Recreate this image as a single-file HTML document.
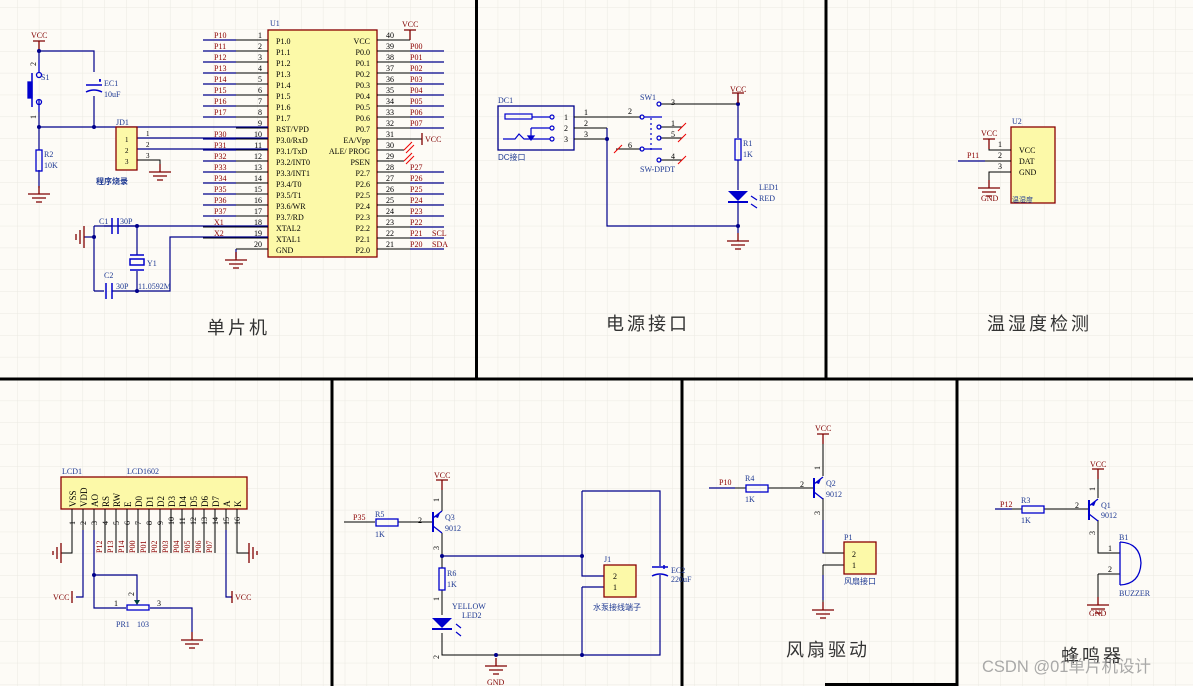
<!DOCTYPE html>
<html><head><meta charset="utf-8"><style>
html,body{margin:0;padding:0;background:#fdfbf6;}
svg{display:block;}
text{font-family:"Liberation Serif","Noto Serif CJK SC",serif;}
.cn{font-family:"Liberation Sans","Noto Sans CJK SC",sans-serif;}
g[stroke="#000"] path{fill:none;}
</style></head><body>
<svg width="1193" height="686" viewBox="0 0 1193 686" xmlns="http://www.w3.org/2000/svg">
<defs>
<pattern id="g" x="17" y="7.3" width="21.85" height="21.85" patternUnits="userSpaceOnUse">
<path d="M0 0H21.85M0 0V21.85" stroke="#eae9e2" stroke-width="1" fill="none"/>
</pattern>
<g id="gnd"><path d="M0 0V8M-11 8H11M-7 12H7M-3 16H3" stroke="#800000" stroke-width="1.3" fill="none"/></g>
<g id="vcc"><path d="M-6 0H6M0 0V10" stroke="#800000" stroke-width="1.3" fill="none"/></g>
<g id="pnp"><path d="M0 -10V10" stroke="#0000cc" stroke-width="2"/><path d="M0 -4L9 -11M0 4L9 11" stroke="#0000cc" stroke-width="1.3" fill="none"/><path d="M2 -5L7 -9L5 -4Z" fill="#0000cc"/></g>
</defs>
<rect width="1193" height="686" fill="#fdfbf6"/>
<rect width="1193" height="686" fill="url(#g)"/>

<g stroke="#000" stroke-width="3">
<path d="M0 379H1193M476.5 0V379M826 0V379M332 379V686M682 379V686M957 379V686M825 684.5H957"/>
</g>

<!-- ================= MCU ================= -->
<rect x="268" y="30" width="109" height="227" fill="#fcf9a8" stroke="#8b0000" stroke-width="1.3"/>
<g stroke="#000" stroke-width="1">
<path d="M203 40H268M203 51H268M203 62H268M203 73H268M203 84H268M203 95H268M203 106H268M203 117H268M236 128H268M203 139H268M203 150H268M203 161H268M203 172H268M203 183H268M203 194H268M203 205H268M203 216H268M203 227H268M203 238H268M236 249H268"/>
<path d="M377 40H410M377 51H444M377 62H444M377 73H444M377 84H444M377 95H444M377 106H444M377 117H444M377 128H444M377 139H422M377 150H404M377 161H404M377 172H444M377 183H444M377 194H444M377 205H444M377 216H444M377 227H444M377 238H444M377 249H444"/>
</g>
<g stroke="#00008b" stroke-width="1.2" fill="none">
<path d="M203 40H236M203 51H236M203 62H236M203 73H236M203 84H236M203 95H236M203 106H236M203 117H236M203 139H236M203 150H236M203 161H236M203 172H236M203 183H236M203 194H236M203 205H236M203 216H236"/>
<path d="M410 51H444M410 62H444M410 73H444M410 84H444M410 95H444M410 106H444M410 117H444M410 128H444M410 172H444M410 183H444M410 194H444M410 205H444M410 216H444M410 227H444M410 238H444M410 249H444"/>
</g>
<g stroke="#e00" stroke-width="1"><path d="M406 153L414 145M406 164L414 156M404 150L412 142M404 161L412 153"/></g>
<text x="270" y="26" font-size="8" fill="#1f3a93">U1</text>
<use href="#vcc" x="410" y="30"/><text x="402" y="27" font-size="8" fill="#800000">VCC</text>
<path d="M422 133V145" stroke="#800000" stroke-width="1.3"/>
<text x="425" y="142" font-size="8" fill="#800000">VCC</text>
<g font-size="8" fill="#000">
<g text-anchor="end"><text x="262" y="38">1</text><text x="262" y="49">2</text><text x="262" y="60">3</text><text x="262" y="71">4</text><text x="262" y="82">5</text><text x="262" y="93">6</text><text x="262" y="104">7</text><text x="262" y="115">8</text><text x="262" y="126">9</text><text x="262" y="137">10</text><text x="262" y="148">11</text><text x="262" y="159">12</text><text x="262" y="170">13</text><text x="262" y="181">14</text><text x="262" y="192">15</text><text x="262" y="203">16</text><text x="262" y="214">17</text><text x="262" y="225">18</text><text x="262" y="236">19</text><text x="262" y="247">20</text></g>
<g><text x="386" y="38">40</text><text x="386" y="49">39</text><text x="386" y="60">38</text><text x="386" y="71">37</text><text x="386" y="82">36</text><text x="386" y="93">35</text><text x="386" y="104">34</text><text x="386" y="115">33</text><text x="386" y="126">32</text><text x="386" y="137">31</text><text x="386" y="148">30</text><text x="386" y="159">29</text><text x="386" y="170">28</text><text x="386" y="181">27</text><text x="386" y="192">26</text><text x="386" y="203">25</text><text x="386" y="214">24</text><text x="386" y="225">23</text><text x="386" y="236">22</text><text x="386" y="247">21</text></g>
<g><text x="276" y="44">P1.0</text><text x="276" y="55">P1.1</text><text x="276" y="66">P1.2</text><text x="276" y="77">P1.3</text><text x="276" y="88">P1.4</text><text x="276" y="99">P1.5</text><text x="276" y="110">P1.6</text><text x="276" y="121">P1.7</text><text x="276" y="132">RST/VPD</text><text x="276" y="143">P3.0/RxD</text><text x="276" y="154">P3.1/TxD</text><text x="276" y="165">P3.2/INT0</text><text x="276" y="176">P3.3/INT1</text><text x="276" y="187">P3.4/T0</text><text x="276" y="198">P3.5/T1</text><text x="276" y="209">P3.6/WR</text><text x="276" y="220">P3.7/RD</text><text x="276" y="231">XTAL2</text><text x="276" y="242">XTAL1</text><text x="276" y="253">GND</text></g>
<g text-anchor="end"><text x="370" y="44">VCC</text><text x="370" y="55">P0.0</text><text x="370" y="66">P0.1</text><text x="370" y="77">P0.2</text><text x="370" y="88">P0.3</text><text x="370" y="99">P0.4</text><text x="370" y="110">P0.5</text><text x="370" y="121">P0.6</text><text x="370" y="132">P0.7</text><text x="370" y="143">EA/Vpp</text><text x="370" y="154">ALE/ PROG</text><text x="370" y="165">PSEN</text><text x="370" y="176">P2.7</text><text x="370" y="187">P2.6</text><text x="370" y="198">P2.5</text><text x="370" y="209">P2.4</text><text x="370" y="220">P2.3</text><text x="370" y="231">P2.2</text><text x="370" y="242">P2.1</text><text x="370" y="253">P2.0</text></g>
</g>
<g font-size="8" fill="#8b0000">
<text x="214" y="38">P10</text><text x="214" y="49">P11</text><text x="214" y="60">P12</text><text x="214" y="71">P13</text><text x="214" y="82">P14</text><text x="214" y="93">P15</text><text x="214" y="104">P16</text><text x="214" y="115">P17</text><text x="214" y="137">P30</text><text x="214" y="148">P31</text><text x="214" y="159">P32</text><text x="214" y="170">P33</text><text x="214" y="181">P34</text><text x="214" y="192">P35</text><text x="214" y="203">P36</text><text x="214" y="214">P37</text><text x="214" y="225">X1</text><text x="214" y="236">X2</text>
<text x="410" y="49">P00</text><text x="410" y="60">P01</text><text x="410" y="71">P02</text><text x="410" y="82">P03</text><text x="410" y="93">P04</text><text x="410" y="104">P05</text><text x="410" y="115">P06</text><text x="410" y="126">P07</text><text x="410" y="170">P27</text><text x="410" y="181">P26</text><text x="410" y="192">P25</text><text x="410" y="203">P24</text><text x="410" y="214">P23</text><text x="410" y="225">P22</text><text x="410" y="236">P21</text><text x="410" y="247">P20</text><text x="432" y="236">SCL</text><text x="432" y="247">SDA</text>
</g>

<use href="#vcc" x="39" y="41"/><text x="31" y="38" font-size="8" fill="#800000">VCC</text>
<g stroke="#00008b" stroke-width="1.2" fill="none">
<path d="M39 51H94V72M94 96V127M39 51V60M39 112V150M39 170V188M39 127H268"/>
<path d="M137 138H268M137 149H268M94 226H268M137 226V255M137 271V291M94 226V291M94 237H84M94 291H104M112 291H170V237H268M236 249V258"/>
</g>
<g stroke="#000" stroke-width="1"><path d="M137 160H160V168"/></g>
<g fill="#00008b"><circle cx="39" cy="51" r="2"/><circle cx="39" cy="127" r="2"/><circle cx="94" cy="127" r="2"/><circle cx="137" cy="226" r="2"/><circle cx="94" cy="237" r="2"/><circle cx="137" cy="291" r="2"/></g>
<g stroke="#0000cc" stroke-width="1.3" fill="none"><path d="M39 60V72M39 100V112"/><circle cx="39" cy="75" r="2.5"/><circle cx="39" cy="102" r="2.5"/><path d="M32 73V107" stroke-width="1.5"/><rect x="28" y="82" width="4" height="16" fill="#0000cc"/></g>
<text x="41" y="80" font-size="8" fill="#1f3a93">S1</text>
<text x="36" y="66" font-size="8" transform="rotate(-90 36 66)" fill="#000">2</text>
<text x="36" y="119" font-size="8" transform="rotate(-90 36 119)" fill="#000">1</text>
<g stroke="#0000cc" stroke-width="1.5" fill="none"><path d="M86 85H102M86 92Q94 88 102 92M99 80H101M100 79V82"/></g>
<text x="104" y="86" font-size="8" fill="#1f3a93">EC1</text><text x="104" y="97" font-size="8" fill="#1f3a93">10uF</text>
<rect x="36" y="150" width="6" height="21" fill="none" stroke="#0000cc" stroke-width="1.3"/>
<text x="44" y="157" font-size="8" fill="#1f3a93">R2</text><text x="44" y="168" font-size="8" fill="#1f3a93">10K</text>
<use href="#gnd" x="39" y="186"/>
<rect x="116" y="127" width="21" height="43" fill="#fcf9a8" stroke="#8b0000" stroke-width="1.3"/>
<text x="116" y="125" font-size="8" fill="#1f3a93">JD1</text>
<g font-size="7" fill="#000"><text x="125" y="142">1</text><text x="125" y="153">2</text><text x="125" y="164">3</text><text x="146" y="136">1</text><text x="146" y="147">2</text><text x="146" y="158">3</text></g>
<use href="#gnd" x="160" y="164"/>
<text x="96" y="184" font-size="8" fill="#1f3a93" class="cn" font-weight="bold">程序烧录</text>
<g stroke="#0000cc" stroke-width="1.5" fill="none"><path d="M112 218V234M118 218V234M106 283V299M112 283V299"/><rect x="130" y="259" width="14" height="6"/><path d="M130 255H144M130 270H144"/></g>
<path d="M104 226H112M118 226H137" stroke="#00008b" stroke-width="1.2"/>
<g font-size="8" fill="#1f3a93"><text x="99" y="224">C1</text><text x="120" y="224">30P</text><text x="104" y="278">C2</text><text x="116" y="289">30P</text><text x="147" y="266">Y1</text><text x="138" y="289">11.0592M</text></g>
<g stroke="#800000" stroke-width="1.3"><path d="M84 226V248M80 230V244M76 234V240"/></g>
<use href="#gnd" x="236" y="252"/>
<text x="207" y="334" font-size="18" fill="#333" class="cn" letter-spacing="3">单片机</text>

<!-- ================= Power ================= -->
<rect x="498" y="106" width="76" height="44" fill="none" stroke="#00008b" stroke-width="1.3"/>
<text x="498" y="103" font-size="8" fill="#1f3a93">DC1</text>
<text x="498" y="160" font-size="8" fill="#1f3a93" class="cn">DC接口</text>
<g stroke="#0000cc" stroke-width="1.2" fill="none">
<rect x="505" y="114" width="27" height="5"/><path d="M532 117H550M531 128H550M531 128V136M503 139H515L519 134L524 139H550"/>
<circle cx="552" cy="117" r="2"/><circle cx="552" cy="128" r="2"/><circle cx="552" cy="139" r="2"/>
<path d="M528 136H534L531 140Z" fill="#0000cc"/>
</g>
<g font-size="8" fill="#000"><text x="564" y="120">1</text><text x="564" y="131">2</text><text x="564" y="142">3</text><text x="584" y="115">1</text><text x="584" y="126">2</text><text x="584" y="137">3</text><text x="628" y="114">2</text><text x="671" y="105">3</text><text x="671" y="126">1</text><text x="671" y="137">5</text><text x="628" y="148">6</text><text x="671" y="159">4</text></g>
<g stroke="#000" stroke-width="1"><path d="M574 117H641M574 128H607M574 139H607M660 104H738M616 149H641M660 127H682M660 138H682M660 160H682"/></g>
<g stroke="#00008b" stroke-width="1.2" fill="none"><path d="M607 128V226H738M738 93V138M738 160V190M738 202V233"/></g>
<g fill="#00008b"><circle cx="607" cy="139" r="2"/><circle cx="738" cy="104" r="2"/><circle cx="738" cy="226" r="2"/></g>
<g stroke="#0000cc" stroke-width="1.2" fill="none"><circle cx="659" cy="104" r="2"/><circle cx="642" cy="117" r="2"/><circle cx="659" cy="127" r="2"/><circle cx="659" cy="138" r="2"/><circle cx="642" cy="149" r="2"/><circle cx="659" cy="160" r="2"/><path d="M644 117H662M644 149H662"/><path d="M651 118V150" stroke-dasharray="2 3"/></g>
<g stroke="#e00" stroke-width="1"><path d="M678 131L686 123M678 142L686 134M678 164L686 156M614 153L622 145"/></g>
<text x="640" y="100" font-size="8" fill="#1f3a93">SW1</text><text x="640" y="172" font-size="8" fill="#1f3a93">SW-DPDT</text>
<use href="#vcc" x="738" y="93"/><text x="730" y="92" font-size="8" fill="#800000">VCC</text>
<rect x="735" y="139" width="6" height="21" fill="none" stroke="#0000cc" stroke-width="1.3"/>
<text x="743" y="146" font-size="8" fill="#1f3a93">R1</text><text x="743" y="157" font-size="8" fill="#1f3a93">1K</text>
<path d="M728 191H748L738 201Z" fill="#0000cc"/><path d="M728 202H748" stroke="#0000cc" stroke-width="2"/>
<path d="M751 196L757 200M751 204L757 208" stroke="#0000cc" stroke-width="1.2"/>
<text x="759" y="190" font-size="8" fill="#1f3a93">LED1</text><text x="759" y="201" font-size="8" fill="#1f3a93">RED</text>
<use href="#gnd" x="738" y="233"/>
<text x="606" y="330" font-size="18" fill="#333" class="cn" letter-spacing="3">电源接口</text>

<!-- ================= Humidity ================= -->
<rect x="1011" y="127" width="44" height="76" fill="#fcf9a8" stroke="#8b0000" stroke-width="1.3"/>
<text x="1012" y="124" font-size="8" fill="#1f3a93">U2</text>
<text x="1012" y="202" font-size="7" fill="#1f3a93" class="cn">温湿度</text>
<g stroke="#000" stroke-width="1"><path d="M989 149V150H1011M958 161H1011M989 182V172H1011"/></g>
<path d="M958 161H985" stroke="#00008b" stroke-width="1.3"/>
<g font-size="8" fill="#000"><text x="998" y="147">1</text><text x="998" y="158">2</text><text x="998" y="169">3</text><text x="1019" y="153">VCC</text><text x="1019" y="164">DAT</text><text x="1019" y="175">GND</text></g>
<use href="#vcc" x="989" y="139"/><text x="981" y="136" font-size="8" fill="#800000">VCC</text>
<text x="967" y="158" font-size="8" fill="#8b0000">P11</text>
<use href="#gnd" x="989" y="180"/><text x="981" y="201" font-size="8" fill="#800000">GND</text>
<text x="987" y="330" font-size="18" fill="#333" class="cn" letter-spacing="3">温湿度检测</text>

<!-- ================= LCD ================= -->
<rect x="61" y="477" width="186" height="32" fill="#fcf9a8" stroke="#8b0000" stroke-width="1.3"/>
<text x="62" y="474" font-size="8" fill="#1f3a93">LCD1</text><text x="127" y="474" font-size="8" fill="#1f3a93">LCD1602</text>
<g font-size="9" fill="#000">
<text transform="translate(76 507) rotate(-90)">VSS</text><text transform="translate(87 507) rotate(-90)">VDD</text><text transform="translate(98 507) rotate(-90)">AO</text><text transform="translate(109 507) rotate(-90)">RS</text><text transform="translate(120 507) rotate(-90)">RW</text><text transform="translate(131 507) rotate(-90)">E</text><text transform="translate(142 507) rotate(-90)">D0</text><text transform="translate(153 507) rotate(-90)">D1</text><text transform="translate(164 507) rotate(-90)">D2</text><text transform="translate(175 507) rotate(-90)">D3</text><text transform="translate(186 507) rotate(-90)">D4</text><text transform="translate(197 507) rotate(-90)">D5</text><text transform="translate(208 507) rotate(-90)">D6</text><text transform="translate(219 507) rotate(-90)">D7</text><text transform="translate(230 507) rotate(-90)">A</text><text transform="translate(241 507) rotate(-90)">K</text>
</g>
<g stroke="#000" stroke-width="1"><path d="M72 509V553H61M83 509V530M94 509V530M105 509V553M116 509V553M127 509V553M138 509V553M149 509V553M160 509V553M171 509V553M182 509V553M193 509V553M204 509V553M215 509V553M226 509V530M237 509V553H249"/></g>
<g stroke="#00008b" stroke-width="1.2" fill="none"><path d="M83 530V597H76M94 530V608H126M94 575H137V604M150 608H192V632M226 530V597H232"/></g>
<circle cx="94" cy="575" r="2" fill="#00008b"/>
<g font-size="8" fill="#000">
<text transform="translate(75 525) rotate(-90)">1</text><text transform="translate(86 525) rotate(-90)">2</text><text transform="translate(97 525) rotate(-90)">3</text><text transform="translate(108 525) rotate(-90)">4</text><text transform="translate(119 525) rotate(-90)">5</text><text transform="translate(130 525) rotate(-90)">6</text><text transform="translate(141 525) rotate(-90)">7</text><text transform="translate(152 525) rotate(-90)">8</text><text transform="translate(163 525) rotate(-90)">9</text><text transform="translate(174 525) rotate(-90)">10</text><text transform="translate(185 525) rotate(-90)">11</text><text transform="translate(196 525) rotate(-90)">12</text><text transform="translate(207 525) rotate(-90)">13</text><text transform="translate(218 525) rotate(-90)">14</text><text transform="translate(229 525) rotate(-90)">15</text><text transform="translate(240 525) rotate(-90)">16</text>
</g>
<g font-size="8" fill="#8b0000">
<text transform="translate(102 553) rotate(-90)">P12</text><text transform="translate(113 553) rotate(-90)">P13</text><text transform="translate(124 553) rotate(-90)">P14</text><text transform="translate(135 553) rotate(-90)">P00</text><text transform="translate(146 553) rotate(-90)">P01</text><text transform="translate(157 553) rotate(-90)">P02</text><text transform="translate(168 553) rotate(-90)">P03</text><text transform="translate(179 553) rotate(-90)">P04</text><text transform="translate(190 553) rotate(-90)">P05</text><text transform="translate(201 553) rotate(-90)">P06</text><text transform="translate(212 553) rotate(-90)">P07</text>
</g>
<g stroke="#800000" stroke-width="1.3"><path d="M61 543V563M57 547V559M53 551V555M249 543V563M253 547V559M257 551V555M72 591V603M232 591V603"/></g>
<text x="53" y="600" font-size="8" fill="#800000">VCC</text><text x="235" y="600" font-size="8" fill="#800000">VCC</text>
<rect x="127" y="605" width="22" height="5" fill="none" stroke="#0000cc" stroke-width="1.3"/>
<path d="M134 600H140L137 605Z" fill="#004040"/>
<g font-size="8" fill="#000"><text x="114" y="606">1</text><text x="157" y="606">3</text><text transform="translate(134 596) rotate(-90)">2</text></g>
<text x="116" y="627" font-size="8" fill="#1f3a93">PR1</text><text x="137" y="627" font-size="8" fill="#1f3a93">103</text>
<use href="#gnd" x="192" y="632"/>

<!-- ================= Q3 / water ================= -->
<use href="#vcc" x="442" y="480"/><text x="434" y="478" font-size="8" fill="#800000">VCC</text>
<g stroke="#000" stroke-width="1"><path d="M344 522H375M398 522H432M442 490V511M442 533V556M442 556V568M442 590V615M442 633V655H582"/></g>
<g stroke="#00008b" stroke-width="1.2" fill="none"><path d="M442 556H582M582 491H660V566M660 575V655H582M582 491V576H604M582 587H604M582 587V655"/></g>
<g fill="#00008b"><circle cx="442" cy="556" r="2"/><circle cx="582" cy="556" r="2"/><circle cx="496" cy="655" r="2"/><circle cx="582" cy="655" r="2"/></g>
<rect x="376" y="519" width="22" height="7" fill="none" stroke="#0000cc" stroke-width="1.3"/>
<text x="353" y="520" font-size="8" fill="#8b0000">P35</text><text x="375" y="517" font-size="8" fill="#1f3a93">R5</text><text x="375" y="537" font-size="8" fill="#1f3a93">1K</text>
<text x="418" y="523" font-size="8" fill="#000">2</text>
<use href="#pnp" x="433" y="522"/>
<text x="445" y="520" font-size="8" fill="#1f3a93">Q3</text><text x="445" y="531" font-size="8" fill="#1f3a93">9012</text>
<text transform="translate(439 502) rotate(-90)" font-size="8">1</text><text transform="translate(439 550) rotate(-90)" font-size="8">3</text>
<rect x="439" y="568" width="6" height="22" fill="none" stroke="#0000cc" stroke-width="1.3"/>
<text x="447" y="576" font-size="8" fill="#1f3a93">R6</text><text x="447" y="587" font-size="8" fill="#1f3a93">1K</text>
<text transform="translate(439 601) rotate(-90)" font-size="8">1</text><text transform="translate(439 659) rotate(-90)" font-size="8">2</text>
<path d="M432 618H452L442 628Z" fill="#0000cc"/><path d="M432 629H452" stroke="#0000cc" stroke-width="2"/>
<path d="M456 624L461 628M456 632L461 636" stroke="#0000cc" stroke-width="1.2"/>
<text x="452" y="609" font-size="8" fill="#1f3a93">YELLOW</text><text x="462" y="618" font-size="8" fill="#1f3a93">LED2</text>
<use href="#gnd" x="496" y="658"/><text x="487" y="685" font-size="8" fill="#800000">GND</text>
<rect x="604" y="565" width="32" height="32" fill="#fcf9a8" stroke="#8b0000" stroke-width="1.3"/>
<text x="604" y="562" font-size="8" fill="#1f3a93">J1</text>
<text x="613" y="579" font-size="8">2</text><text x="613" y="590" font-size="8">1</text>
<text x="593" y="610" font-size="8" fill="#1f3a93" class="cn">水泵接线端子</text>
<g stroke="#0000cc" stroke-width="1.5" fill="none"><path d="M652 567H668M652 576Q660 572 668 576M664 565V569M662 567H666"/></g>
<text x="671" y="573" font-size="8" fill="#1f3a93">EC2</text><text x="671" y="582" font-size="8" fill="#1f3a93">220uF</text>

<!-- ================= Fan ================= -->
<use href="#vcc" x="823" y="434"/><text x="815" y="431" font-size="8" fill="#800000">VCC</text>
<g stroke="#000" stroke-width="1"><path d="M709 488H746M768 488H813M823 444V476M823 498V553H844M823 565H844M823 565V605"/></g>
<path d="M709 488H735M823 520V553M823 575V600" stroke="#00008b" stroke-width="1.2" fill="none"/>
<rect x="746" y="485" width="22" height="7" fill="none" stroke="#0000cc" stroke-width="1.3"/>
<text x="719" y="485" font-size="8" fill="#8b0000">P10</text><text x="745" y="481" font-size="8" fill="#1f3a93">R4</text><text x="745" y="502" font-size="8" fill="#1f3a93">1K</text>
<text x="800" y="487" font-size="8">2</text>
<use href="#pnp" x="814" y="488"/>
<text x="826" y="486" font-size="8" fill="#1f3a93">Q2</text><text x="826" y="497" font-size="8" fill="#1f3a93">9012</text>
<text transform="translate(820 470) rotate(-90)" font-size="8">1</text><text transform="translate(820 515) rotate(-90)" font-size="8">3</text>
<rect x="844" y="542" width="32" height="32" fill="#fcf9a8" stroke="#8b0000" stroke-width="1.3"/>
<text x="844" y="540" font-size="8" fill="#1f3a93">P1</text>
<text x="852" y="557" font-size="8">2</text><text x="852" y="568" font-size="8">1</text>
<text x="844" y="584" font-size="8" fill="#1f3a93" class="cn">风扇接口</text>
<use href="#gnd" x="823" y="602"/>
<text x="786" y="656" font-size="18" fill="#333" class="cn" letter-spacing="3">风扇驱动</text>

<!-- ================= Buzzer ================= -->
<use href="#vcc" x="1098" y="469"/><text x="1090" y="467" font-size="8" fill="#800000">VCC</text>
<g stroke="#000" stroke-width="1"><path d="M995 509H1022M1044 509H1088M1098 479V498M1098 520V553H1120M1098 574H1120M1098 574V599"/></g>
<path d="M995 509H1012" stroke="#00008b" stroke-width="1.2"/>
<rect x="1022" y="506" width="22" height="7" fill="none" stroke="#0000cc" stroke-width="1.3"/>
<text x="1000" y="507" font-size="8" fill="#8b0000">P12</text><text x="1021" y="503" font-size="8" fill="#1f3a93">R3</text><text x="1021" y="523" font-size="8" fill="#1f3a93">1K</text>
<text x="1075" y="508" font-size="8">2</text>
<use href="#pnp" x="1089" y="510"/>
<text x="1101" y="508" font-size="8" fill="#1f3a93">Q1</text><text x="1101" y="518" font-size="8" fill="#1f3a93">9012</text>
<text transform="translate(1095 491) rotate(-90)" font-size="8">1</text><text transform="translate(1095 535) rotate(-90)" font-size="8">3</text>
<text x="1108" y="551" font-size="8">1</text><text x="1108" y="572" font-size="8">2</text>
<path d="M1120 542V585M1120 542Q1140 543 1141 563Q1140 584 1120 585" stroke="#0000cc" stroke-width="1.3" fill="none"/>
<text x="1119" y="540" font-size="8" fill="#1f3a93">B1</text><text x="1119" y="596" font-size="8" fill="#1f3a93">BUZZER</text>
<use href="#gnd" x="1098" y="597"/><text x="1089" y="616" font-size="8" fill="#800000">GND</text>
<text x="1061" y="662" font-size="18" fill="#333" class="cn" letter-spacing="3">蜂鸣器</text>

<text x="982" y="672" font-size="16.5" fill="#9a9a9a" fill-opacity="0.85" class="cn">CSDN @01单片机设计</text>
</svg>
</body></html>
